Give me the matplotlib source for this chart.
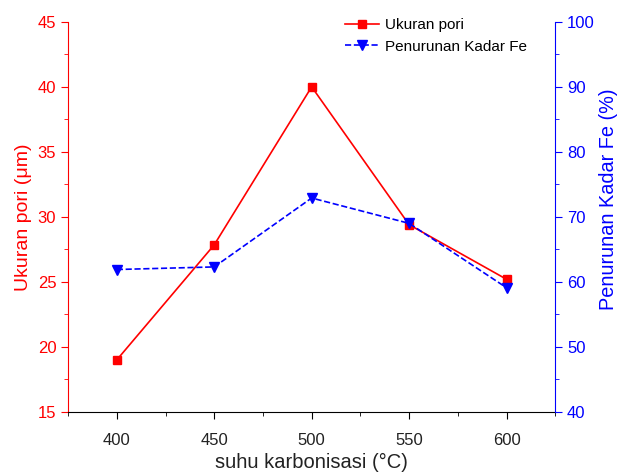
import matplotlib.pyplot as plt
from matplotlib.ticker import MultipleLocator

plt.rcParams['font.family'] = ['Liberation Sans', 'DejaVu Sans']

# data
suhu = [400, 450, 500, 550, 600]
ukuran_pori = [19.0, 27.85, 40.0, 29.4, 25.2]
penurunan_fe = [61.9, 62.3, 72.9, 69.0, 59.1]

fig = plt.figure(figsize=(6.19, 4.74), dpi=100)
ax = fig.add_axes([0.110, 0.131, 0.787, 0.823])
ax2 = ax.twinx()

l1, = ax.plot(suhu, ukuran_pori, color='red', marker='s', markersize=6, lw=1.2, label='Ukuran pori')
l2, = ax2.plot(suhu, penurunan_fe, color='blue', marker='v', markersize=7, lw=1.2, ls='--', label='Penurunan Kadar Fe')

ax.set_xlim(375, 625)
ax.set_ylim(15, 45)
ax2.set_ylim(40, 100)
ax.xaxis.set_major_locator(MultipleLocator(50))
ax.xaxis.set_minor_locator(MultipleLocator(25))
ax.yaxis.set_major_locator(MultipleLocator(5))
ax.yaxis.set_minor_locator(MultipleLocator(2.5))
ax2.yaxis.set_major_locator(MultipleLocator(10))
ax2.yaxis.set_minor_locator(MultipleLocator(5))

for a in (ax, ax2):
    a.spines['top'].set_visible(False)
ax.spines['left'].set_color('red')
ax.spines['right'].set_visible(False)
ax2.spines['left'].set_visible(False)
ax2.spines['right'].set_color('blue')
ax2.spines['bottom'].set_visible(False)

ax.tick_params(axis='x', which='major', length=5, labelsize=12, pad=10, labelcolor='#222222')
ax.tick_params(axis='x', which='minor', length=3)
ax.tick_params(axis='y', which='major', colors='red', length=5, labelsize=12)
ax.tick_params(axis='y', which='minor', colors='red', length=3)
ax2.tick_params(axis='y', which='major', colors='blue', length=5, labelsize=12)
ax2.tick_params(axis='y', which='minor', colors='blue', length=3)

ax.set_xlabel('suhu karbonisasi (°C)', fontsize=14.5, labelpad=4, color='#222222')
ax.set_ylabel('Ukuran pori (μm)', fontsize=14, color='red')
ax2.set_ylabel('Penurunan Kadar Fe (%)', fontsize=14.3, color='blue')
ax2.yaxis.set_label_coords(1.09, 0.545)

ax.legend(handles=[l1, l2], loc='upper right', bbox_to_anchor=(0.97, 1.045), frameon=False, fontsize=11,
          handlelength=2.2, handletextpad=0.4, labelspacing=0.5)

fig.savefig('out.png', dpi=100)
